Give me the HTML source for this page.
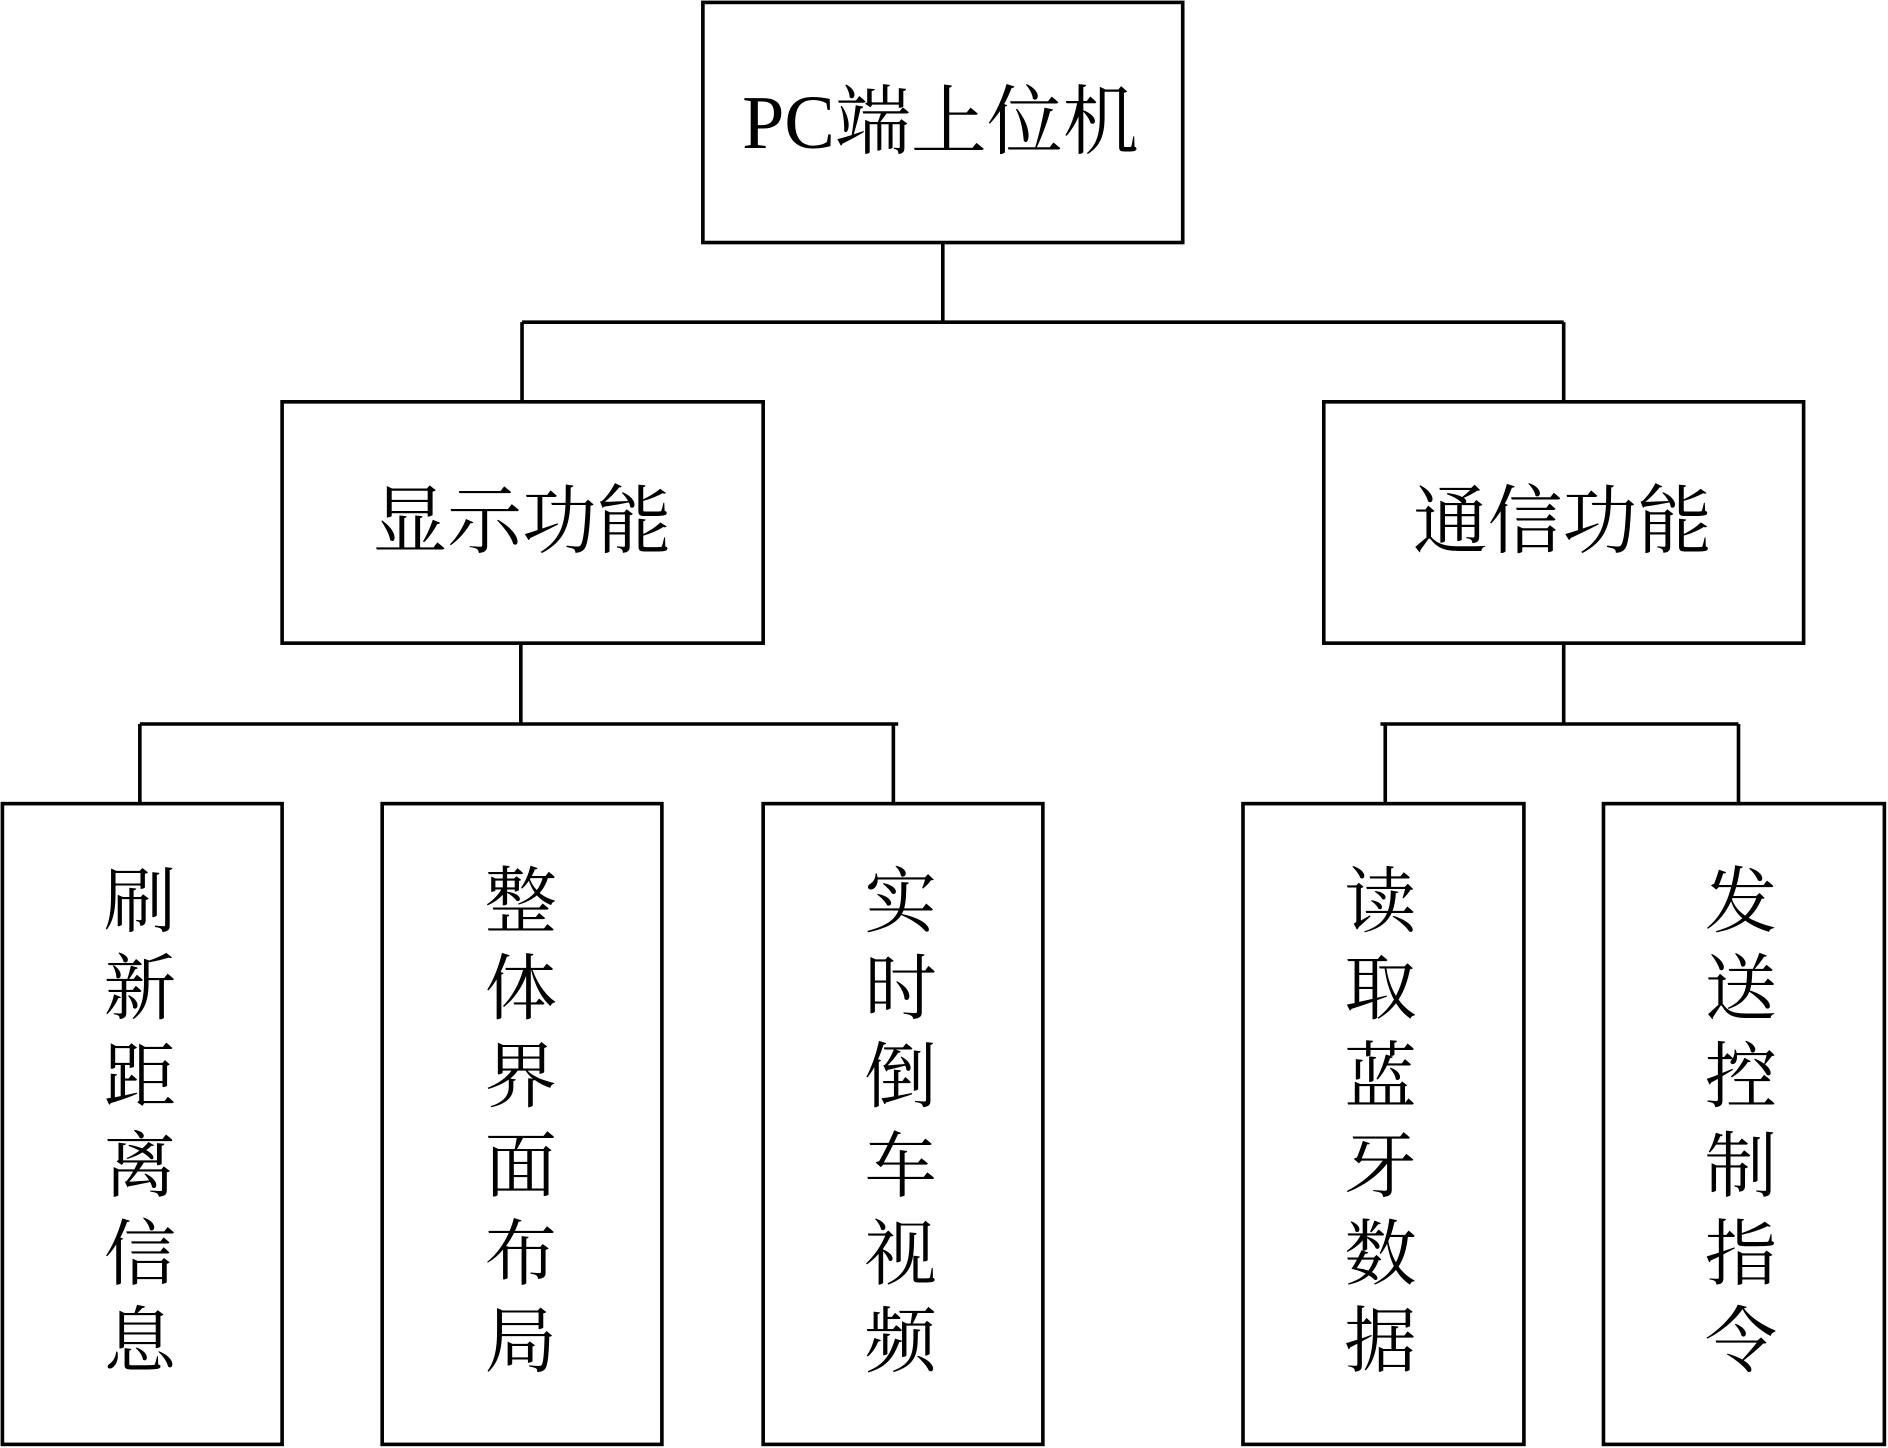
<!DOCTYPE html>
<html><head><meta charset="utf-8"><style>
html,body{margin:0;padding:0;background:#fff;width:1888px;height:1448px;overflow:hidden}
svg{display:block}
text{font-family:"Liberation Serif","Noto Serif CJK SC",serif;fill:#000}
</style></head><body>
<svg width="1888" height="1448" viewBox="0 0 1566 1200" preserveAspectRatio="none" xmlns="http://www.w3.org/2000/svg">
<g fill="none" stroke="#000" stroke-width="3">
<rect x="583" y="2" width="398" height="199"/>
<rect x="234" y="333" width="399" height="200"/>
<rect x="1098" y="333" width="398" height="200"/>
<rect x="2" y="666" width="232" height="531"/>
<rect x="317" y="666" width="232" height="531"/>
<rect x="633" y="666" width="232" height="531"/>
<rect x="1031" y="666" width="233" height="531"/>
<rect x="1330" y="666" width="233" height="531"/>
<path d="M782 201V267M433 267H1297M433 267V333M1297 267V333"/>
<path d="M432 533V600M116 600H745M116 600V666M741 600V666"/>
<path d="M1297 533V600M1145 600H1442M1149 600V666M1442 600V666"/>
</g>
<g text-anchor="middle" dominant-baseline="central">
<text x="780" y="102" font-size="63">PC端上位机</text>
<text x="433" y="433" font-size="62">显示功能</text>
<text x="1296" y="433" font-size="62">通信功能</text>
</g>
<g text-anchor="middle" dominant-baseline="central" font-size="60">
<g transform="translate(116,0)"><text y="748">刷</text><text y="820">新</text><text y="893">距</text><text y="967">离</text><text y="1040">信</text><text y="1112">息</text></g>
<g transform="translate(432,0)"><text y="748">整</text><text y="820">体</text><text y="893">界</text><text y="967">面</text><text y="1040">布</text><text y="1112">局</text></g>
<g transform="translate(747,0)"><text y="748">实</text><text y="820">时</text><text y="893">倒</text><text y="967">车</text><text y="1040">视</text><text y="1112">频</text></g>
<g transform="translate(1145,0)"><text y="748">读</text><text y="820">取</text><text y="893">蓝</text><text y="967">牙</text><text y="1040">数</text><text y="1112">据</text></g>
<g transform="translate(1444,0)"><text y="748">发</text><text y="820">送</text><text y="893">控</text><text y="967">制</text><text y="1040">指</text><text y="1112">令</text></g>
</g>
</svg>
</body></html>
